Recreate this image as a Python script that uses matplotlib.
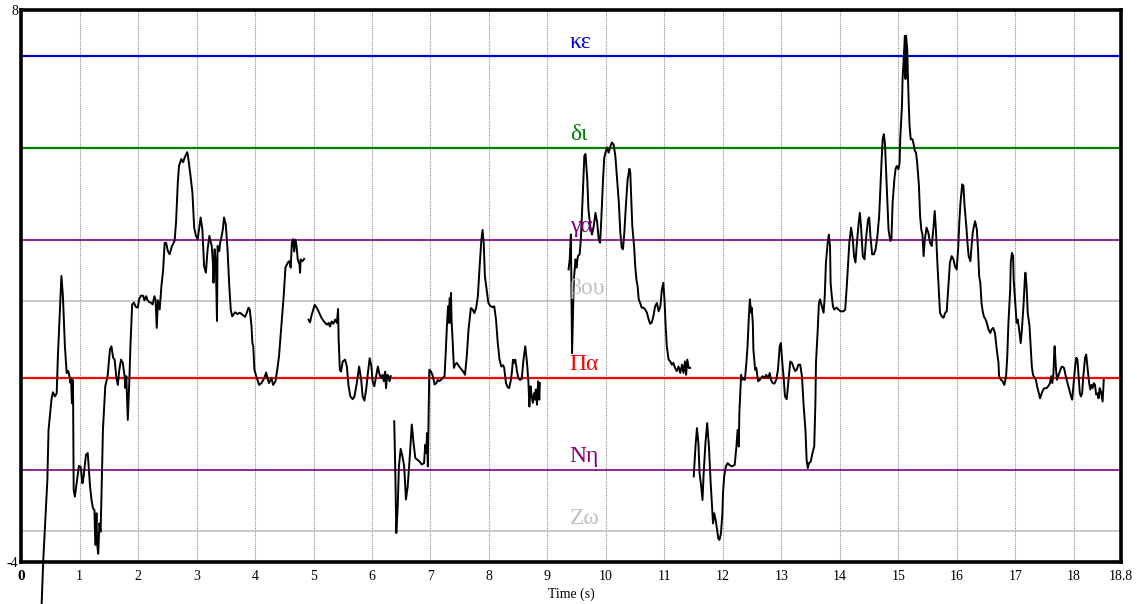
import matplotlib.pyplot as plt

plt.rcParams['font.family'] = ['Liberation Serif', 'DejaVu Serif']

# reference notes (name, level, colour)
note_names = ['κε', 'δι', 'γα', 'βου', 'Πα', 'Νη', 'Ζω']
note_levels = [7, 5, 3, 1.67, 0, -2, -3.33]
note_colors = ['#0000cc', '#008000', '#800080', '#c0c0c0', '#ff0000', '#800080', '#c0c0c0']
note_label_x = 9.38

x_ticks = list(range(19)) + [18.8]
x_ticklabels = [str(t) for t in range(19)] + ['18.8']
y_ticks = [-4, 8]
y_ticklabels = ['-4', '8']

# pitch trace, one list of (time, pitch) per voiced segment
seg1 = [(0.338, -5.4), (0.38, -3.96), (0.45, -2.22), (0.47, -1.13), (0.52, -0.47), (0.545, -0.31),
        (0.58, -0.40), (0.61, -0.33), (0.63, 0.47), (0.665, 1.49), (0.69, 2.22), (0.716, 1.78),
        (0.75, 0.69), (0.78, 0.11), (0.807, 0.15), (0.835, 0.0), (0.845, -0.11), (0.855, 0.0),
        (0.87, -0.55), (0.88, -0.04), (0.89, -0.4), (0.90, -2.43), (0.92, -2.58), (0.95, -2.29),
        (0.99, -1.91), (1.02, -1.93), (1.05, -2.29), (1.07, -2.14), (1.11, -1.67), (1.14, -1.63),
        (1.18, -2.36), (1.205, -2.65), (1.23, -2.83), (1.255, -2.87), (1.27, -3.63), (1.29, -2.94),
        (1.30, -3.60), (1.32, -3.82), (1.34, -3.16), (1.36, -3.34), (1.375, -2.58), (1.40, -1.13),
        (1.44, -0.18), (1.48, 0.04), (1.52, 0.62), (1.545, 0.69), (1.575, 0.44), (1.60, 0.40),
        (1.63, 0.0), (1.655, -0.15), (1.68, 0.18), (1.71, 0.40), (1.74, 0.33), (1.77, 0.04),
        (1.785, -0.22), (1.80, 0.04), (1.825, -0.91), (1.85, -0.11), (1.87, 0.69), (1.90, 1.60),
        (1.93, 1.64), (1.96, 1.55), (1.995, 1.53), (2.02, 1.72), (2.05, 1.79), (2.085, 1.79),
        (2.11, 1.69), (2.14, 1.78), (2.16, 1.70), (2.19, 1.65), (2.22, 1.64), (2.25, 1.60),
        (2.28, 1.78), (2.30, 1.70), (2.32, 1.09), (2.34, 1.69), (2.37, 1.49), (2.40, 2.00),
        (2.43, 2.36), (2.455, 2.94), (2.48, 2.94), (2.51, 2.76), (2.54, 2.69), (2.58, 2.87),
        (2.625, 2.98), (2.65, 3.38), (2.68, 4.25), (2.70, 4.61), (2.74, 4.76), (2.77, 4.69),
        (2.80, 4.80), (2.84, 4.91), (2.85, 4.87), (2.89, 4.47), (2.93, 4.03), (2.96, 3.27),
        (2.99, 3.09), (3.02, 3.02), (3.05, 3.31), (3.07, 3.49), (3.10, 3.23), (3.13, 2.43),
        (3.16, 2.29), (3.19, 2.80), (3.22, 3.09), (3.26, 2.87), (3.28, 2.51), (3.29, 2.07),
        (3.31, 2.80), (3.33, 2.51), (3.35, 1.24), (3.36, 2.87), (3.39, 2.76), (3.40, 2.91),
        (3.43, 3.09), (3.45, 3.23), (3.47, 3.49), (3.50, 3.34), (3.53, 2.80), (3.56, 2.00),
        (3.585, 1.49), (3.61, 1.34), (3.66, 1.43), (3.70, 1.39), (3.74, 1.42), (3.79, 1.37),
        (3.83, 1.33), (3.86, 1.42), (3.89, 1.53), (3.91, 1.49), (3.94, 1.13), (3.955, 0.76),
        (3.97, 0.69), (3.99, 0.18), (4.02, 0.04), (4.045, -0.05), (4.07, -0.15), (4.11, -0.11),
        (4.16, 0.0), (4.19, 0.12), (4.22, -0.04), (4.24, -0.11), (4.28, 0.0), (4.31, -0.15),
        (4.35, -0.07), (4.38, 0.18), (4.41, 0.47), (4.45, 1.13), (4.49, 1.78), (4.52, 2.40),
        (4.56, 2.51), (4.585, 2.54), (4.61, 2.40), (4.63, 2.94), (4.65, 3.02), (4.67, 2.75),
        (4.69, 3.01), (4.71, 2.87), (4.73, 2.58), (4.76, 2.47), (4.77, 2.29), (4.78, 2.58),
        (4.81, 2.54), (4.84, 2.59)]

seg2 = [(4.915, 1.27), (4.94, 1.21), (4.97, 1.38), (5.02, 1.59), (5.06, 1.52), (5.10, 1.41),
        (5.14, 1.30), (5.19, 1.21), (5.23, 1.16), (5.26, 1.20), (5.28, 1.12), (5.31, 1.23),
        (5.34, 1.18), (5.37, 1.27), (5.40, 1.20), (5.42, 1.50), (5.43, 0.83), (5.45, 0.18),
        (5.47, 0.14), (5.50, 0.36), (5.54, 0.40), (5.57, 0.25), (5.60, -0.18), (5.63, -0.40),
        (5.67, -0.46), (5.70, -0.40), (5.74, -0.11), (5.78, 0.25), (5.815, -0.04), (5.84, -0.40),
        (5.87, -0.49), (5.90, -0.25), (5.93, 0.11), (5.96, 0.43), (5.99, 0.25), (6.01, -0.07),
        (6.04, -0.18), (6.07, 0.04), (6.10, 0.25), (6.13, 0.07), (6.16, 0.0), (6.18, 0.07),
        (6.20, -0.07), (6.225, 0.14), (6.24, -0.22), (6.26, 0.07), (6.28, 0.04), (6.30, -0.07),
        (6.32, 0.04)]

seg3 = [(6.38, -0.94), (6.40, -2.14), (6.415, -3.37), (6.44, -2.79), (6.46, -1.92), (6.49, -1.54),
        (6.52, -1.70), (6.55, -1.92), (6.58, -2.64), (6.61, -2.36), (6.65, -1.63), (6.68, -1.01),
        (6.71, -1.41), (6.74, -1.74), (6.78, -1.78), (6.81, -1.81), (6.85, -1.88), (6.89, -1.85),
        (6.91, -1.45), (6.93, -1.63), (6.94, -1.20), (6.955, -1.92), (6.97, -0.62), (6.98, 0.18),
        (7.01, 0.14), (7.04, 0.04), (7.07, -0.14), (7.10, -0.11), (7.125, -0.04), (7.15, -0.07),
        (7.18, -0.04), (7.21, 0.0), (7.24, 0.04), (7.26, 0.54), (7.28, 1.12), (7.30, 1.56),
        (7.31, 1.20), (7.33, 1.74), (7.34, 1.20), (7.35, 1.85), (7.36, 1.27), (7.38, 0.76),
        (7.40, 0.22), (7.42, 0.29), (7.45, 0.33), (7.49, 0.25), (7.535, 0.18), (7.56, 0.14),
        (7.59, 0.07), (7.62, 0.47), (7.65, 1.05), (7.69, 1.52), (7.72, 1.49), (7.75, 1.41),
        (7.78, 1.52), (7.81, 1.78), (7.84, 2.43), (7.87, 3.01), (7.89, 3.22), (7.91, 2.93),
        (7.93, 2.21), (7.96, 1.92), (7.99, 1.63), (8.02, 1.57), (8.06, 1.54), (8.09, 1.56),
        (8.12, 1.27), (8.15, 0.76), (8.18, 0.40), (8.21, 0.25), (8.24, 0.28), (8.26, 0.22),
        (8.29, -0.11), (8.32, -0.20), (8.345, -0.22), (8.37, -0.07), (8.39, 0.11), (8.41, 0.40),
        (8.43, 0.33), (8.45, 0.40), (8.475, 0.18), (8.50, 0.0), (8.53, -0.04), (8.56, -0.02),
        (8.59, 0.40), (8.62, 0.69), (8.65, 0.33), (8.675, -0.11), (8.69, -0.62), (8.71, -0.18),
        (8.73, -0.40), (8.75, -0.54), (8.77, -0.33), (8.785, -0.47), (8.80, -0.25), (8.82, -0.58),
        (8.84, -0.07), (8.86, -0.47), (8.87, -0.11)]

seg4 = [(9.36, 2.36), (9.38, 2.58), (9.40, 3.12), (9.42, 0.54), (9.45, 2.14), (9.48, 2.58),
        (9.495, 2.40), (9.52, 2.65), (9.55, 2.69), (9.57, 3.01), (9.60, 3.89), (9.63, 4.83),
        (9.65, 4.87), (9.68, 4.32), (9.70, 3.67), (9.73, 3.30), (9.76, 3.12), (9.79, 3.30),
        (9.82, 3.59), (9.85, 3.38), (9.875, 3.01), (9.90, 2.94), (9.92, 3.45), (9.95, 4.32),
        (9.97, 4.79), (10.0, 4.94), (10.02, 5.01), (10.045, 4.90), (10.07, 5.01), (10.10, 5.12),
        (10.13, 5.08), (10.16, 4.83), (10.19, 4.32), (10.22, 3.81), (10.245, 3.16), (10.27, 2.83),
        (10.29, 2.80), (10.31, 3.09), (10.34, 3.74), (10.37, 4.32), (10.40, 4.55), (10.415, 4.47),
        (10.43, 3.96), (10.45, 3.30), (10.48, 2.87), (10.50, 2.43), (10.52, 2.14), (10.54, 2.00),
        (10.56, 1.71), (10.585, 1.63), (10.61, 1.53), (10.64, 1.53), (10.67, 1.49), (10.70, 1.42),
        (10.73, 1.27), (10.755, 1.18), (10.78, 1.20), (10.81, 1.34), (10.84, 1.56), (10.87, 1.63),
        (10.90, 1.45), (10.93, 1.56), (10.955, 1.92), (10.98, 2.07), (11.0, 1.71), (11.02, 1.13),
        (11.04, 0.69), (11.07, 0.40), (11.10, 0.36), (11.125, 0.29), (11.15, 0.33), (11.18, 0.22),
        (11.21, 0.15), (11.24, 0.25), (11.27, 0.11), (11.30, 0.29), (11.325, 0.11), (11.35, 0.36),
        (11.37, 0.07), (11.39, 0.40), (11.415, 0.22), (11.44, 0.22)]

seg5 = [(11.50, -2.14), (11.51, -1.92), (11.53, -1.49), (11.555, -1.09), (11.58, -1.42),
        (11.60, -2.07), (11.625, -2.32), (11.65, -2.65), (11.67, -2.07), (11.70, -1.42),
        (11.73, -0.98), (11.76, -1.49), (11.79, -2.29), (11.82, -2.94), (11.83, -3.16),
        (11.85, -2.94), (11.875, -3.09), (11.90, -3.30), (11.92, -3.49), (11.94, -3.52),
        (11.965, -3.38), (11.99, -2.94), (12.0, -2.51), (12.02, -2.14), (12.05, -1.92),
        (12.08, -1.85), (12.11, -1.89), (12.15, -1.92), (12.20, -1.89), (12.23, -1.49),
        (12.25, -1.13), (12.27, -1.49), (12.28, -0.76), (12.31, 0.07), (12.33, -0.04),
        (12.35, 0.0), (12.375, -0.04), (12.40, 0.33), (12.42, 0.69), (12.44, 1.27), (12.46, 1.71),
        (12.48, 1.42), (12.49, 1.53), (12.51, 1.20), (12.52, 0.62), (12.55, 0.18), (12.57, 0.22),
        (12.60, -0.07), (12.63, -0.04), (12.65, 0.0), (12.68, 0.04), (12.71, 0.0), (12.74, 0.07),
        (12.77, 0.0), (12.80, 0.11), (12.82, -0.04), (12.85, -0.11), (12.88, -0.12), (12.91, -0.04),
        (12.94, 0.18), (12.97, 0.69), (12.99, 0.76), (13.01, 0.40), (13.04, -0.04), (13.06, -0.40),
        (13.09, -0.46), (13.12, -0.04), (13.15, 0.36), (13.18, 0.33), (13.21, 0.22), (13.235, 0.15),
        (13.26, 0.18), (13.29, 0.29), (13.32, 0.29), (13.35, 0.04), (13.38, -0.62), (13.41, -1.13),
        (13.43, -1.78), (13.45, -1.96), (13.47, -1.85), (13.50, -1.82), (13.53, -1.63),
        (13.56, -1.49), (13.58, -0.54), (13.59, 0.33), (13.62, 1.05), (13.64, 1.63), (13.66, 1.71),
        (13.69, 1.56), (13.72, 1.42), (13.74, 1.78), (13.76, 2.51), (13.79, 2.94), (13.81, 3.12),
        (13.83, 2.87), (13.84, 2.07), (13.86, 1.78), (13.88, 1.56), (13.90, 1.49), (13.94, 1.53),
        (13.975, 1.49), (14.01, 1.45), (14.06, 1.45), (14.09, 1.49), (14.12, 2.07), (14.14, 2.51),
        (14.16, 2.94), (14.19, 3.27), (14.22, 3.01), (14.24, 2.65), (14.265, 2.51), (14.29, 2.94),
        (14.32, 3.38), (14.34, 3.59), (14.36, 3.30), (14.39, 2.65), (14.42, 2.58), (14.45, 3.09),
        (14.48, 3.45), (14.50, 3.49), (14.52, 3.09), (14.55, 2.69), (14.58, 2.69), (14.61, 2.80),
        (14.64, 3.09), (14.67, 3.52), (14.69, 4.10), (14.71, 4.68), (14.73, 5.19), (14.75, 5.30),
        (14.77, 5.08), (14.79, 4.47), (14.81, 3.81), (14.83, 3.23), (14.86, 2.98), (14.88, 3.01),
        (14.90, 3.81), (14.93, 4.32), (14.95, 4.54), (14.97, 4.61), (15.0, 4.54), (15.02, 4.68),
        (15.03, 5.19), (15.06, 5.92), (15.07, 6.50), (15.09, 6.94), (15.11, 7.44), (15.12, 6.50),
        (15.13, 7.44), (15.15, 7.15), (15.16, 6.64), (15.175, 5.99), (15.19, 5.48), (15.21, 5.19),
        (15.24, 5.19), (15.26, 5.08), (15.28, 4.94), (15.30, 4.90), (15.32, 4.68), (15.35, 4.18),
        (15.37, 3.52), (15.39, 3.23), (15.41, 3.12), (15.43, 2.65), (15.45, 3.01), (15.48, 3.27),
        (15.51, 3.16), (15.54, 2.94), (15.57, 2.87), (15.60, 3.30), (15.62, 3.63), (15.64, 3.23),
        (15.665, 2.51), (15.69, 1.92), (15.71, 1.42), (15.74, 1.34), (15.77, 1.31), (15.80, 1.42),
        (15.825, 1.45), (15.85, 1.92), (15.88, 2.51), (15.91, 2.65), (15.94, 2.58), (15.965, 2.43),
        (15.995, 2.36), (16.02, 2.80), (16.04, 3.38), (16.06, 3.81), (16.09, 4.21), (16.11, 4.18),
        (16.13, 3.74), (16.16, 3.30), (16.18, 2.94), (16.20, 2.65), (16.23, 2.54), (16.25, 2.87),
        (16.27, 3.16), (16.29, 3.30), (16.31, 3.41), (16.34, 3.23), (16.36, 2.80), (16.38, 2.21),
        (16.40, 2.07), (16.42, 1.63), (16.44, 1.45), (16.46, 1.34), (16.49, 1.27), (16.51, 1.20),
        (16.54, 1.05), (16.57, 0.98), (16.59, 1.05), (16.62, 1.09), (16.65, 0.98), (16.68, 0.62),
        (16.71, 0.33), (16.72, 0.04), (16.75, -0.04), (16.78, -0.07), (16.81, -0.15), (16.84, 0.04),
        (16.86, 0.47), (16.88, 1.20), (16.91, 1.92), (16.92, 2.51), (16.94, 2.72), (16.96, 2.65),
        (16.97, 2.14), (17.0, 1.56), (17.02, 1.20), (17.04, 1.27), (17.07, 0.98), (17.09, 0.76),
        (17.11, 1.05), (17.14, 1.63), (17.16, 2.14), (17.17, 2.29), (17.19, 2.00), (17.21, 1.42),
        (17.24, 1.13), (17.26, 0.69), (17.28, 0.25), (17.30, 0.07), (17.33, 0.0), (17.35, -0.04),
        (17.37, -0.18), (17.40, -0.33), (17.42, -0.44), (17.45, -0.33), (17.475, -0.25),
        (17.50, -0.22), (17.53, -0.22), (17.56, -0.18), (17.59, -0.11), (17.61, 0.04),
        (17.63, -0.11), (17.65, 0.11), (17.66, 0.47), (17.67, 0.69), (17.69, 0.25), (17.71, -0.04),
        (17.72, 0.0), (17.75, 0.11), (17.78, 0.22), (17.80, 0.25), (17.83, 0.22), (17.86, 0.04),
        (17.89, -0.11), (17.92, -0.25), (17.95, -0.40), (17.97, -0.47), (17.99, -0.18),
        (18.02, 0.25), (18.04, 0.44), (18.06, 0.40), (18.08, 0.04), (18.10, -0.33), (18.12, -0.40),
        (18.14, -0.33), (18.16, 0.04), (18.19, 0.44), (18.21, 0.51), (18.23, 0.25), (18.26, -0.11),
        (18.28, -0.25), (18.30, -0.15), (18.32, -0.22), (18.34, -0.11), (18.36, -0.15),
        (18.38, -0.36), (18.41, -0.33), (18.42, -0.44), (18.44, -0.22), (18.46, -0.29),
        (18.49, -0.51), (18.51, -0.04)]

segments = [seg1, seg2, seg3, seg4, seg5]


fig = plt.figure(figsize=(11.37, 6.04), dpi=100)
ax = fig.add_axes([0.0185, 0.0695, 0.9672, 0.9139])

for name, level, col in zip(note_names, note_levels, note_colors):
    lw = 1.6 if col in ('#0000cc', '#ff0000', '#008000') else 1.2
    ax.axhline(level, color=col, lw=lw, zorder=2)
    ax.annotate(name, (note_label_x, level), xytext=(0, 5.5), textcoords='offset points',
                color=col, fontsize=17, ha='left', va='baseline', zorder=4)

for seg in segments:
    t, v = zip(*seg)
    ax.plot(t, v, color='black', lw=1.4, clip_on=False, zorder=3)

ax.set_xlim(0, 18.8)
ax.set_ylim(-4, 8)
ax.set_xticks(x_ticks)
ax.set_xticklabels(x_ticklabels)
ax.set_yticks(y_ticks)
ax.set_yticklabels(y_ticklabels)
ax.tick_params(axis='x', length=0, pad=5.5, labelsize=10)
ax.tick_params(axis='y', length=0, pad=2, labelsize=10)
ax.get_xticklabels()[0].set_fontweight('bold')
ax.get_xticklabels()[0].set_fontsize(11)

ax.xaxis.grid(True, linestyle=(0, (1, 1)), color='#8c8c8c', lw=0.8)
ax.set_axisbelow(True)
for sp in ax.spines.values():
    sp.set_linewidth(2.6)
    sp.set_color('black')
    sp.set_zorder(5)

ax.set_xlabel('Time (s)', fontsize=10, labelpad=3.5)

fig.savefig('out.png', dpi=100)
